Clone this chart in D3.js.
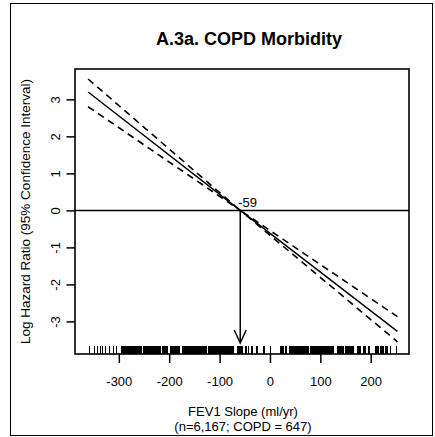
<!DOCTYPE html>
<html>
<head>
<meta charset="utf-8">
<script src="https://cdn.jsdelivr.net/npm/d3@7"></script>
<style>
  html, body { margin: 0; padding: 0; background: #fff; }
  svg { display: block; font-family: "Liberation Sans", Arial, sans-serif; }
</style>
</head>
<body>
<svg id="chart" width="435" height="437"></svg>
<script>
// ---- data ----
const titleText = "A.3a. COPD Morbidity";
const xLabelLines = ["FEV1 Slope (ml/yr)", "(n=6,167; COPD = 647)"];
const yLabelText = "Log Hazard Ratio (95% Confidence Interval)";
const xTicks = [-300, -200, -100, 0, 100, 200];
const yTicks = [-3, -2, -1, 0, 1, 2, 3];
const curveX = [-361, -59, 253];
const fitY = [3.2, 0, -3.27];
const upperY = [3.55, 0, -2.87];
const lowerY = [2.8, 0, -3.55];
const refValue = -59;
const refLabel = "-59";
const rugValues = [
  -360, -350, -343, -337, -333, -327, -319, -312, -305,
  -296, -294, -292, -290, -288, -286, -284, -282, -280, -278, -276, -274, -272, -270, -268, -266, -264, -262, -260, -258, -256,
  -252, -250, -248, -246, -244, -242, -240, -238, -236, -234, -232, -230, -228, -226, -224, -222, -220, -218,
  -215, -213, -211, -209, -207, -205,
  -198, -196, -194, -192, -190, -188, -186, -184, -182, -180,
  -175, -173, -171, -169, -167, -165, -163, -161, -159, -157, -155, -153, -151, -149, -147, -145, -143, -141, -139, -137, -135, -133, -131, -129, -127,
  -123, -121, -119, -117, -115, -113, -111, -109, -107, -105, -103, -101, -99, -97, -95, -93, -91, -89, -87, -85, -83, -81, -79, -77, -75, -73,
  -66, -64, -62, -60, -58, -56,
  -50, -47, -44, -38, -36, -28, -26, -14, -12, 0,
  20, 22, 24, 26, 30, 32, 38, 40, 42, 44,
  46, 48, 50, 52, 54, 56, 58, 60, 62, 64, 66, 68, 70, 72, 74, 76,
  79, 81, 83, 85, 87, 89, 91, 93, 95, 97, 99, 101, 103, 105, 107, 109, 111, 113,
  115, 117, 119, 121, 123, 125, 133, 135, 137, 139, 141, 143, 145,
  149, 151, 153, 155, 157, 159, 161, 163, 165, 173, 175, 177, 179,
  185, 187, 189, 195, 197, 208, 210, 212, 214, 218, 220, 222, 224, 228, 230, 232, 238, 250
];

// ---- layout ----
const svg = d3.select("#chart");
const plot = { left: 75, right: 409, top: 69, bottom: 354 };
const x = d3.scaleLinear().domain([-387, 276]).range([plot.left, plot.right]);
const y = d3.scaleLinear().domain([-3.88, 3.82]).range([plot.bottom, plot.top]);
const fmt = d => String(d);

// outer frame
svg.append("rect").attr("x", 10.5).attr("y", 3.5).attr("width", 422).attr("height", 432)
  .attr("fill", "none").attr("stroke", "#000").attr("stroke-width", 1);

// title
svg.append("text").attr("x", 249).attr("y", 44.5).attr("text-anchor", "middle")
  .attr("font-size", 18).attr("font-weight", "bold").text(titleText);

const g = svg.append("g");

// clip
svg.append("clipPath").attr("id", "clip").append("rect")
  .attr("x", plot.left).attr("y", plot.top)
  .attr("width", plot.right - plot.left).attr("height", plot.bottom - plot.top);

const inner = g.append("g").attr("clip-path", "url(#clip)");

// horizontal zero line
inner.append("line").attr("x1", plot.left).attr("x2", plot.right)
  .attr("y1", y(0)).attr("y2", y(0)).attr("stroke", "#000").attr("stroke-width", 1.5);

// curves
const pts = (ys) => curveX.map((v, i) => [v, ys[i]]);
const line = d3.line().x(d => x(d[0])).y(d => y(d[1]));
inner.append("path").attr("d", line(pts(fitY))).attr("fill", "none")
  .attr("stroke", "#000").attr("stroke-width", 1.4);
[upperY, lowerY].forEach(ys => {
  inner.append("path").attr("d", line(pts(ys))).attr("fill", "none")
    .attr("stroke", "#000").attr("stroke-width", 1.6).attr("stroke-dasharray", "7,5");
});

// reference arrow
const ax = x(refValue);
const tipY = 343;
inner.append("line").attr("x1", ax).attr("x2", ax).attr("y1", y(0)).attr("y2", tipY)
  .attr("stroke", "#000").attr("stroke-width", 1.5);
inner.append("path")
  .attr("d", `M${ax - 6},${tipY - 13}L${ax},${tipY}L${ax + 6},${tipY - 13}`)
  .attr("fill", "none").attr("stroke", "#000").attr("stroke-width", 1.5);
g.append("text").attr("x", ax - 2).attr("y", 207).attr("font-size", 13).text(refLabel);

// rug
inner.selectAll("line.rug").data(rugValues).join("line").attr("class", "rug")
  .attr("x1", d => Math.round(x(d)) + 0.5).attr("x2", d => Math.round(x(d)) + 0.5)
  .attr("y1", plot.bottom).attr("y2", plot.bottom - 8)
  .attr("stroke", "#000").attr("stroke-width", 1);

// plot box
g.append("rect").attr("x", plot.left).attr("y", plot.top)
  .attr("width", plot.right - plot.left).attr("height", plot.bottom - plot.top)
  .attr("fill", "none").attr("stroke", "#000").attr("stroke-width", 1.6);

// x axis
const xAxis = d3.axisBottom(x).tickValues(xTicks).tickSize(9).tickPadding(4).tickFormat(fmt);
const xg = g.append("g").attr("transform", `translate(0,${plot.bottom})`).call(xAxis);
xg.select(".domain").remove();
xg.selectAll(".tick line").attr("stroke-width", 1.5);
xg.selectAll(".tick text").attr("font-size", 13).attr("font-family", "Liberation Sans, Arial, sans-serif")
  .attr("dy", null).attr("y", 32);

// y axis
const yAxis = d3.axisLeft(y).tickValues(yTicks).tickSize(8.5).tickFormat(fmt);
const yg = g.append("g").attr("transform", `translate(${plot.left},0)`).call(yAxis);
yg.select(".domain").remove();
yg.selectAll(".tick line").attr("stroke-width", 1.5);
yg.selectAll(".tick text").attr("font-size", 13).attr("font-family", "Liberation Sans, Arial, sans-serif")
  .attr("x", null).attr("dy", null).attr("text-anchor", "middle")
  .attr("transform", "translate(-15,0) rotate(-90)");

// axis titles
xLabelLines.forEach((t, i) => {
  svg.append("text").attr("x", 243).attr("y", 416 + i * 14.5).attr("text-anchor", "middle")
    .attr("font-size", 13).text(t);
});
svg.append("text").attr("transform", `translate(30,${(plot.top + plot.bottom) / 2}) rotate(-90)`)
  .attr("text-anchor", "middle").attr("font-size", 13.5).text(yLabelText);
</script>
</body>
</html>
